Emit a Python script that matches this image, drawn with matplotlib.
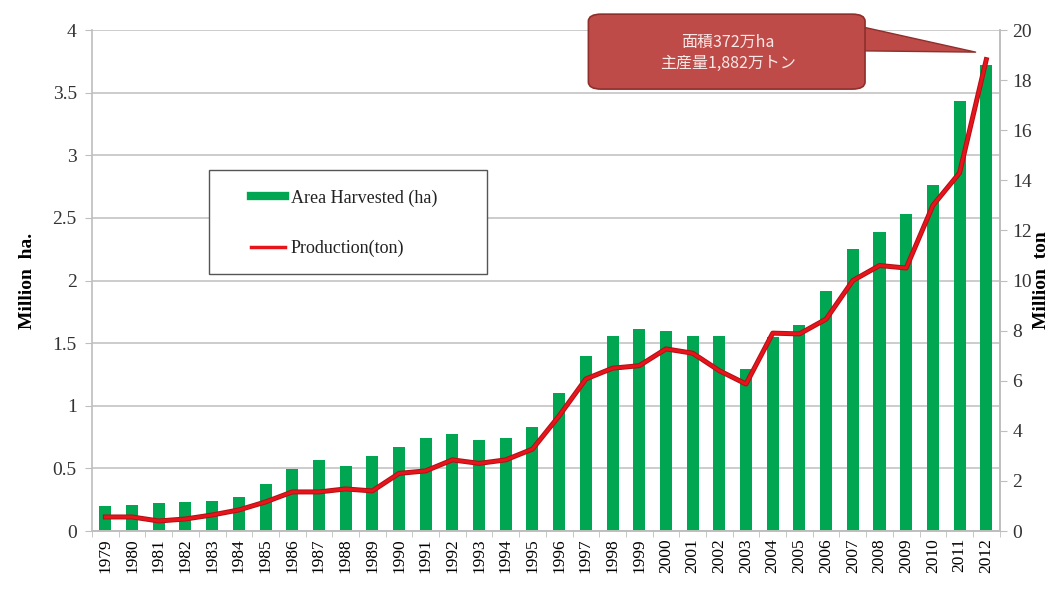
import matplotlib
matplotlib.use("Agg")
import matplotlib.pyplot as plt
from matplotlib.lines import Line2D
from matplotlib.patches import FancyBboxPatch, Rectangle
import numpy as np

# data
years = list(range(1979, 2013))
area_mha = [0.20, 0.21, 0.22, 0.23, 0.24, 0.27, 0.375, 0.495, 0.57, 0.52,
            0.60, 0.67, 0.74, 0.775, 0.73, 0.74, 0.83, 1.10, 1.40, 1.56,
            1.61, 1.60, 1.56, 1.56, 1.29, 1.55, 1.645, 1.92, 2.25, 2.39,
            2.53, 2.76, 3.43, 3.72]
prod_mt = [0.56, 0.56, 0.40, 0.48, 0.64, 0.84, 1.16, 1.56, 1.56, 1.68,
           1.60, 2.30, 2.40, 2.84, 2.70, 2.84, 3.27, 4.60, 6.07, 6.50,
           6.60, 7.27, 7.10, 6.40, 5.87, 7.90, 7.87, 8.46, 10.0, 10.6,
           10.5, 13.0, 14.3, 18.82]
left_ticks = [0, 0.5, 1, 1.5, 2, 2.5, 3, 3.5, 4]
right_ticks = list(range(0, 21, 2))
callout = "面積372万ha\n主産量1,882万トン"

GREEN = "#00A651"
RED = "#E8141B"
GRID = "#BEBEBE"
BOX = "#BE4B48"
serif = ["Liberation Serif", "DejaVu Serif"]

plt.rcParams["font.family"] = serif
fig = plt.figure(figsize=(10.64, 5.9), dpi=100)
ax = fig.add_axes([0.0865, 0.1, 0.853, 0.849])
ax2 = ax.twinx()

x = np.arange(len(years))
ax.bar(x, area_mha, width=0.45, color=GREEN, zorder=2)
ax2.plot(x, prod_mt, color="#B01015", lw=3.6, zorder=3, solid_joinstyle="round")
ax2.plot(x, prod_mt, color=RED, lw=2.2, zorder=4, solid_joinstyle="round")

ax.set_xlim(-0.5, len(years) - 0.5)
ax.set_ylim(0, 4)
ax2.set_ylim(0, 20)
ax.set_yticks(left_ticks)
ax.set_yticklabels([f"{t:g}" for t in left_ticks], fontsize=14, color="#333333")
ax2.set_yticks(right_ticks)
ax2.set_yticklabels([str(t) for t in right_ticks], fontsize=14, color="#333333")
ax.set_xticks(x)
ax.set_xticklabels([str(y) for y in years], rotation=90, fontsize=12.5)
ax.set_xticks(np.arange(-0.5, len(years)), minor=True)
ax.tick_params(axis="x", which="major", length=0, pad=5)
ax.tick_params(axis="x", which="minor", length=4, color=GRID)
ax.tick_params(axis="y", length=5, color=GRID, pad=6)
ax2.tick_params(axis="y", length=5, color=GRID, pad=4)

ax.yaxis.grid(True, color=GRID, lw=1.1, zorder=0)
ax.set_axisbelow(True)
for a in (ax, ax2):
    a.spines["top"].set_visible(False)
    for s in ("left", "right", "bottom"):
        a.spines[s].set_color(GRID)
        a.spines[s].set_linewidth(1.2)
ax2.spines["left"].set_visible(False)

ax.set_ylabel("Million  ha.", fontsize=14, fontweight="bold", labelpad=12)
ax2.set_ylabel("Million  ton", fontsize=14, fontweight="bold", labelpad=1)

# legend: frame drawn by hand so it can be wider than its contents
frame = Rectangle((0.1964, 0.5356), 0.2613, 0.1763, transform=fig.transFigure,
                  facecolor="white", edgecolor="#555555", lw=1.0, zorder=5)
fig.patches.append(frame)
handles = [Line2D([], [], color=GREEN, lw=6),
           Line2D([], [], color=RED, lw=2.5)]
leg = fig.legend(handles, ["Area Harvested (ha)", "Production(ton)"],
                 loc="upper left", bbox_to_anchor=(0.236, 0.679),
                 frameon=False, fontsize=13, handlelength=1.9,
                 handletextpad=0.3, labelspacing=1.85, borderpad=0,
                 borderaxespad=0)
leg.set_zorder(6)
for t in leg.get_texts():
    t.set_color("#222222")

# callout box
box = FancyBboxPatch((0.553, 0.849), 0.26, 0.127, boxstyle="round,pad=0,rounding_size=0.012",
                     transform=fig.transFigure, facecolor=BOX, edgecolor="#8E2F2C",
                     lw=1.2, zorder=10)
fig.patches.append(box)
ax2.annotate("", xy=(x[-1] - 0.4, prod_mt[-1] + 0.3), xycoords="data",
             xytext=(0.805, 0.935), textcoords="figure fraction",
             arrowprops=dict(arrowstyle="wedge,tail_width=1.8,shrink_factor=0.5",
                             facecolor=BOX, edgecolor="#8E2F2C", lw=1.0,
                             shrinkA=0, shrinkB=0),
             zorder=9)
fig.text(0.684, 0.91, callout, ha="center", va="center", fontsize=11.5,
         color="#FBE9E8", linespacing=1.3, zorder=11,
         family=["Noto Sans CJK JP", "DejaVu Sans"])

fig.savefig("out.png", dpi=100)
